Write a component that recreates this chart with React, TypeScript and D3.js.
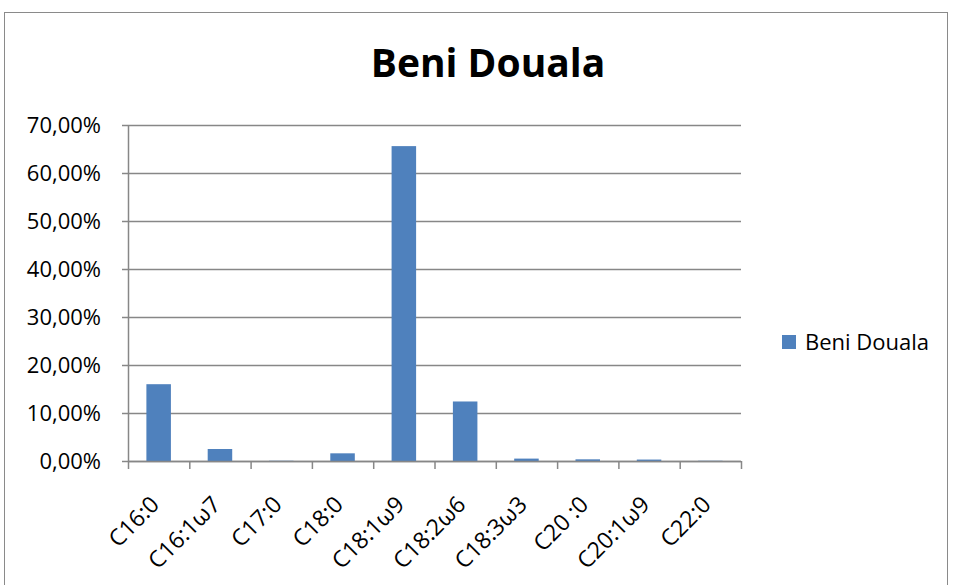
import * as d3 from "d3";

const categories = ["C16:0", "C16:1ω7", "C17:0", "C18:0", "C18:1ω9", "C18:2ω6", "C18:3ω3", "C20 :0", "C20:1ω9", "C22:0"];
const values = [0.16, 0.025, 0.0005, 0.016, 0.656, 0.124, 0.005, 0.0035, 0.003, 0.0005];
const yTicks = [0, 0.1, 0.2, 0.3, 0.4, 0.5, 0.6, 0.7];
const seriesName = "Beni Douala";
const title = "Beni Douala";

const W = 954, H = 585;
const plot = { left: 128, right: 741, top: 125, bottom: 461 };
const font = "'Open Sans', Lato, sans-serif";
const grid = "#878787";
const barColor = "#4F81BD";

export default function App() {
  const x = d3.scaleBand<string>().domain(categories).range([plot.left, plot.right]).paddingInner(0.6).paddingOuter(0.3);
  const xBand = d3.scaleBand<string>().domain(categories).range([plot.left, plot.right]);
  const y = d3.scaleLinear().domain([0, 0.7]).range([plot.bottom, plot.top]);
  const fmt = (v: number) => d3.format(".2f")(v * 100).replace(".", ",") + "%";

  return (
    <svg width={W} height={H} style={{ position: "absolute", left: 0, top: 0 }}>
      <rect x={0} y={0} width={W} height={H} fill="#fff" />
      <rect x={4.5} y={12.5} width={943} height={H} fill="#fff" stroke="#8a8a8a" strokeWidth={1} />
      <text x={488} y={77} textAnchor="middle" fontFamily={font} fontWeight="bold" fontSize={39} fill="#000">{title}</text>
      {yTicks.map((t) => (
        <g key={t}>
          <line x1={plot.left - 6} x2={plot.right} y1={Math.round(y(t)) + 0.5} y2={Math.round(y(t)) + 0.5} stroke={grid} strokeWidth={1.5} />
          <text x={101} y={y(t) + 8} textAnchor="end" fontFamily={font} fontSize={22} fill="#000">{fmt(t)}</text>
        </g>
      ))}
      <line x1={plot.left + 0.5} x2={plot.left + 0.5} y1={plot.top} y2={plot.bottom} stroke={grid} strokeWidth={1.5} />
      {categories.map((c, i) => (
        <rect key={c} x={x(c)} y={y(values[i])} width={x.bandwidth()} height={plot.bottom - y(values[i])} fill={barColor} />
      ))}
      <line x1={plot.left} x2={plot.right} y1={plot.bottom + 0.5} y2={plot.bottom + 0.5} stroke={grid} strokeWidth={1.5} />
      {[...categories.map((c) => xBand(c) as number), plot.right].map((t, i) => (
        <line key={i} x1={t + 0.5} x2={t + 0.5} y1={plot.bottom} y2={plot.bottom + 8} stroke={grid} strokeWidth={1.5} />
      ))}
      {categories.map((c) => {
        const cx = (xBand(c) as number) + xBand.bandwidth() / 2 + 2;
        const cy = plot.bottom + 45;
        return (
          <text key={c} x={cx} y={cy} textAnchor="end" fontFamily={font} fontSize={23} fill="#000" transform={`rotate(-45 ${cx} ${cy})`}>{c}</text>
        );
      })}
      <rect x={782} y={335} width={14} height={14} fill={barColor} />
      <text x={805} y={350} fontFamily={font} fontSize={22} fill="#000">{seriesName}</text>
    </svg>
  );
}
